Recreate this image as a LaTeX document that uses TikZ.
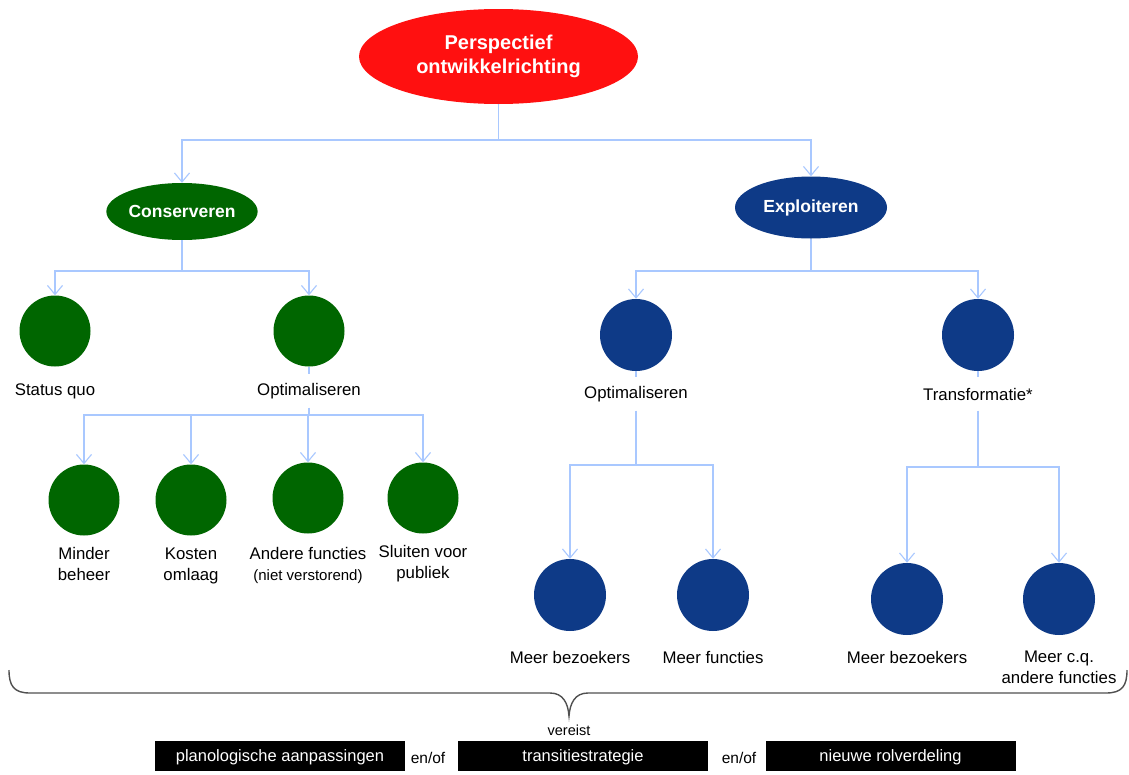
\documentclass[tikz,border=0pt]{standalone}
\usepackage{fontspec}
\setmainfont{Liberation Sans}
\usetikzlibrary{shapes.geometric,arrows.meta}
\definecolor{cred}{HTML}{FF1010}
\definecolor{cgreen}{HTML}{006600}
\definecolor{cblue}{HTML}{0E3A87}
\definecolor{cline}{HTML}{A9C8FF}
\definecolor{cbrace}{HTML}{505050}
\begin{document}
\begin{tikzpicture}[x=1pt,y=-1pt,
  conn/.style={draw=cline,line width=1.2pt},
  arr/.style={conn,-{Straight Barb[length=9pt,width=15pt,line width=1.1pt]}},
  oval/.style={ellipse,inner sep=0pt,text=white,font=\bfseries\fontsize{17.5}{21}\selectfont},
  gdot/.style={circle,fill=cgreen,inner sep=0pt,minimum size=71pt},
  bdot/.style={ellipse,fill=cblue,inner sep=0pt,minimum width=72pt,minimum height=72pt},
  lbl/.style={fill=white,inner sep=0pt,minimum height=33pt,align=center,font=\fontsize{16.8}{21}\selectfont},
  txt/.style={inner sep=0pt,align=center,font=\fontsize{16.8}{21}\selectfont},
  blk/.style={fill=black,text=white,minimum width=250pt,minimum height=30pt,inner sep=0pt,text depth=0pt,font=\fontsize{16.5}{20}\selectfont},
  small/.style={inner sep=0pt,font=\fontsize{15.5}{18}\selectfont}
]
\useasboundingbox[fill=white] (0,0) rectangle (1129,774);

% top level
\node[oval,fill=cred,minimum width=279pt,minimum height=95pt,align=center,font=\bfseries\fontsize{20}{24}\selectfont] (root) at (498.5,56.5) {Perspectief\\ontwikkelrichting};
\node[oval,fill=cgreen,minimum width=148pt,minimum height=57pt] (cons) at (182,211.5) {Conserveren};
\node[oval,fill=cblue,minimum width=152pt,minimum height=62pt] (expl) at (811,207.5) {Exploiteren};
\coordinate (j0) at (498.5,140);
\draw[conn] (root) -- (j0);
\draw[arr] (j0) -| (cons);
\draw[arr] (j0) -| (expl);

% Conserveren branch
\node[gdot] (sq) at (55,331) {};
\node[gdot] (go) at (309,331) {};
\coordinate (j1) at (182,271);
\draw[conn] (cons) -- (j1);
\draw[arr] (j1) -| (sq);
\draw[arr] (j1) -| (go);
\node[txt] (sqt) at (55,391) {Status quo};
\node[lbl] (got) at (309,391) {Optimaliseren};
\draw[conn] (go) -- (got);
\coordinate (j2) at (309,415);
\draw[conn] (got) -- (j2);

\node[gdot] (mb) at (84,500) {};
\node[gdot] (ko) at (191,500) {};
\node[gdot] (af) at (308,498) {};
\node[gdot] (sv) at (423,498) {};
\draw[arr] (j2) -| (mb);
\draw[arr] (j2) -| (ko);
\draw[arr] (j2) -| (af);
\draw[arr] (j2) -| (sv);
\node[txt] (mbt) at (84,564) {Minder\\beheer};
\node[txt] (kot) at (191,566) {Kosten\\omlaag};
\node[txt] (aft) at (308,565) {Andere functies\\{\fontsize{15}{18}\selectfont (niet verstorend)}};
\node[txt] (svt) at (423,564) {Sluiten voor\\publiek};

% Exploiteren branch
\node[bdot] (bo) at (636,335) {};
\node[bdot] (bt) at (978,335) {};
\coordinate (j3) at (811,271);
\draw[conn] (expl) -- (j3);
\draw[arr] (j3) -| (bo);
\draw[arr] (j3) -| (bt);
\node[lbl] (bot) at (636,394) {Optimaliseren};
\node[lbl] (btt) at (978,394) {Transformatie*};
\draw[conn] (bo) -- (bot);
\draw[conn] (bt) -- (btt);
\coordinate (j4) at (636,465);
\coordinate (j5) at (978,467);
\draw[conn] (bot) -- (j4);
\draw[conn] (btt) -- (j5);

\node[bdot] (b1) at (570,595) {};
\node[bdot] (b2) at (713,595) {};
\node[bdot] (b3) at (907,599) {};
\node[bdot] (b4) at (1059,599) {};
\draw[arr] (j4) -| (b1);
\draw[arr] (j4) -| (b2);
\draw[arr] (j5) -| (b3);
\draw[arr] (j5) -| (b4);
\node[txt] (b1t) at (570,657) {Meer bezoekers};
\node[txt] (b2t) at (713,657) {Meer functies};
\node[txt] (b3t) at (907,657) {Meer bezoekers};
\node[txt] (b4t) at (1059,667) {Meer c.q.\\andere functies};

% brace
\coordinate (bl) at (9,670);
\coordinate (tip) at (569,716);
\coordinate (br) at (1127,670);
\draw[cbrace,line width=1.4pt] (bl) .. controls (9,686) and (14,693) .. (30,693) -- (550,693)
  .. controls (563,693) and (568,703) .. (tip)
  .. controls (570,703) and (575,693) .. (588,693) -- (1106,693)
  .. controls (1122,693) and (1127,686) .. (br);
\node[small,font=\fontsize{14.5}{17}\selectfont] (ver) at (569,730) {vereist};

% bottom boxes
\node[blk] (p1) at (280,756) {planologische aanpassingen};
\node[small] (eo1) at (428,758) {en/of};
\node[blk] (p2) at (583,756) {transitiestrategie};
\node[small] (eo2) at (739,758) {en/of};
\node[blk] (p3) at (890.5,756) {nieuwe rolverdeling};
\end{tikzpicture}
\end{document}
